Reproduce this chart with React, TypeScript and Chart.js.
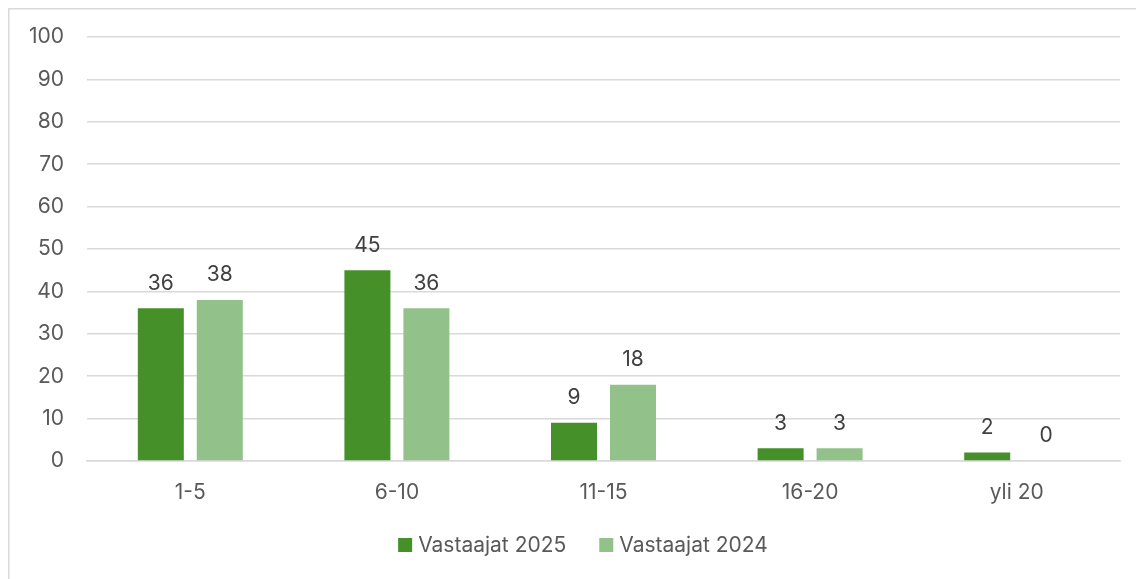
import React, { useEffect, useRef } from "react";
import { Chart, registerables } from "chart.js";

Chart.register(...registerables);

const categories = ["1-5", "6-10", "11-15", "16-20", "yli 20"];
const series2025 = [36, 45, 9, 3, 2];
const series2024 = [38, 36, 18, 3, 0];
const seriesNames = ["Vastaajat 2025", "Vastaajat 2024"];
const yTicks = [0, 10, 20, 30, 40, 50, 60, 70, 80, 90, 100];

const DARK = "#459029";
const LIGHT = "#92c18a";
const FONT = "Inter, 'Open Sans', sans-serif";
const FS = 21;

const valueLabels = {
  id: "valueLabels",
  afterDatasetsDraw(chart: any) {
    const ctx = chart.ctx;
    ctx.save();
    ctx.font = `${FS}px ${FONT}`;
    ctx.fillStyle = "#404040";
    ctx.textAlign = "center";
    ctx.textBaseline = "middle";
    chart.data.datasets.forEach((ds: any, i: number) => {
      const meta = chart.getDatasetMeta(i);
      meta.data.forEach((bar: any, j: number) => {
        ctx.fillText(String(ds.data[j]), bar.x, bar.y - 25);
      });
    });
    ctx.restore();
  },
};

const frameAndLegend = {
  id: "frameAndLegend",
  afterDraw(chart: any) {
    const ctx = chart.ctx;
    ctx.save();
    ctx.strokeStyle = "#d9d9d9";
    ctx.lineWidth = 1.5;
    ctx.beginPath();
    ctx.moveTo(8.75, chart.height);
    ctx.lineTo(8.75, 8.75);
    ctx.lineTo(chart.width, 8.75);
    ctx.stroke();

    ctx.font = `${FS}px ${FONT}`;
    ctx.textBaseline = "middle";
    ctx.textAlign = "left";
    const colors = [DARK, LIGHT];
    const boxSize = 14;
    const gap = 6;
    const itemGap = 33;
    const widths = seriesNames.map((n) => boxSize + gap + ctx.measureText(n).width);
    const total = widths.reduce((a, b) => a + b, 0) + itemGap * (widths.length - 1);
    let x = 583 - total / 2;
    const y = 545;
    seriesNames.forEach((n, i) => {
      ctx.fillStyle = colors[i];
      ctx.fillRect(x, y - boxSize / 2, boxSize, boxSize);
      ctx.fillStyle = "#595959";
      ctx.fillText(n, x + boxSize + gap, y + 1);
      x += widths[i] + itemGap;
    });
    ctx.restore();
  },
};

export default function App() {
  const ref = useRef<HTMLCanvasElement>(null);
  useEffect(() => {
    document.body.style.margin = "0";
    const chart = new Chart(ref.current!, {
      type: "bar",
      data: {
        labels: categories,
        datasets: [
          {
            label: seriesNames[0],
            data: series2025,
            backgroundColor: DARK,
            barPercentage: 0.78,
            categoryPercentage: 0.571,
          },
          {
            label: seriesNames[1],
            data: series2024,
            backgroundColor: LIGHT,
            barPercentage: 0.78,
            categoryPercentage: 0.571,
          },
        ],
      },
      options: {
        animation: false,
        responsive: false,
        maintainAspectRatio: false,
        layout: { padding: { left: 0, right: 16, top: 37, bottom: 0 } },
        plugins: {
          legend: { display: false },
          tooltip: { enabled: false },
        },
        scales: {
          x: {
            grid: { display: false, drawTicks: false },
            border: { display: true, color: "#d9d9d9", width: 1.5 },
            ticks: {
              color: "#595959",
              font: { family: FONT, size: FS },
              padding: 19,
            },
            afterFit(scale: any) {
              scale.height = 579 - 461;
            },
          },
          y: {
            min: 0,
            max: 100,
            afterBuildTicks(scale: any) {
              scale.ticks = yTicks.map((v) => ({ value: v }));
            },
            grid: { color: "#d9d9d9", lineWidth: 1.5, drawTicks: false },
            border: { display: false },
            ticks: {
              color: "#595959",
              font: { family: FONT, size: FS },
              padding: 23,
            },
            afterFit(scale: any) {
              scale.width = 87;
            },
          },
        },
      },
      plugins: [valueLabels, frameAndLegend],
    });
    return () => chart.destroy();
  }, []);
  return (
    <div style={{ width: 1136, height: 579, position: "relative" }}>
      <canvas ref={ref} width={1136} height={579} style={{ display: "block" }} />
    </div>
  );
}
